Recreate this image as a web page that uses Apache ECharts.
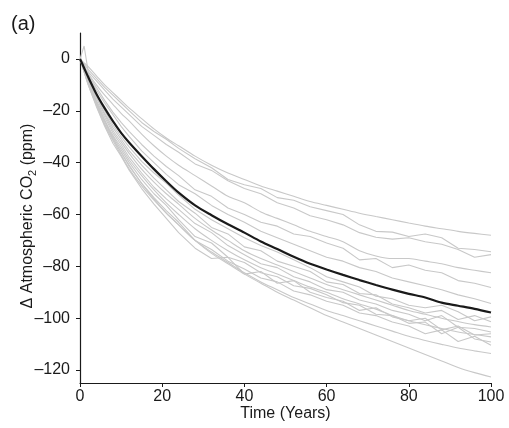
<!DOCTYPE html>
<html>
<head>
<meta charset="utf-8">
<script src="https://cdn.jsdelivr.net/npm/echarts@6/dist/echarts.min.js"></script>
<style>
html,body{margin:0;padding:0;background:#fff;}
#c{width:509px;height:428px;}
</style>
</head>
<body>
<div id="c"></div>
<script>
// Time grid (years)
const years = [0,1,2,4,6,8,10,12,15,18,21,24,28,32,36,40,44,48,52,56,60,64,68,72,76,80,84,88,92,96,100];

// Ensemble mean (black line)
const meanLine = [0,-3.5,-7,-13.5,-19,-24,-28.5,-32.3,-37.5,-42.5,-47.2,-51.6,-56.5,-60.3,-63.8,-67,-70.4,-73.3,-76.3,-79,-81.2,-83.3,-85.3,-87.2,-89,-90.6,-92,-94,-95.2,-96.4,-97.8];

// Individual model runs (grey lines)
const run01 = [0,-1.5,-3,-6.5,-10,-13,-16,-19,-23,-27,-30.5,-33.5,-37.5,-41,-44,-46.5,-49,-51,-53,-55,-56.5,-58,-59.5,-60.8,-62,-63.3,-64.5,-65.5,-66.5,-67.3,-68];
const run02 = [0,-2,-4,-7.5,-11,-14,-17,-20,-24.5,-28,-31,-34.5,-38.5,-42,-46.5,-48.5,-50,-53.5,-54.5,-57,-58.5,-60,-64,-66.5,-66.8,-68.5,-67.5,-69,-73,-73.5,-74.4];
const run03 = [0,5,-5,-8.5,-12,-15.5,-18.5,-21.5,-26,-29.5,-33,-36,-40.5,-43,-47,-50,-52,-55.5,-57.5,-60.5,-62,-64,-67,-68.8,-69.5,-69,-70.5,-71.5,-73.5,-76.5,-75.5];
const run04 = [0,-2.5,-5.5,-10,-14,-17.5,-21,-24,-29,-33.5,-37.5,-41,-45,-49,-53,-55.5,-59,-61.5,-64,-66.5,-68.5,-70.5,-74,-76,-77,-77,-78,-79,-80.5,-81.5,-82.5];
const run05 = [0,-3,-6,-11,-16,-20.5,-24.5,-28,-33,-37.5,-41.5,-45,-50.5,-53,-57.5,-60,-63,-64.5,-67.5,-68.5,-71,-73,-77.5,-77,-80.5,-79.5,-81.5,-82.5,-85.5,-86.5,-88.2];
const run06 = [0,-3.5,-6.5,-12,-17,-21.5,-26,-30,-35.5,-40,-44.5,-48.5,-52,-56.5,-60,-63,-66.5,-69,-71.5,-74,-76.5,-78,-80.5,-82,-84.5,-86,-87.5,-89,-91,-92.5,-94.3];
const run07 = [0,-3.5,-7,-14,-20,-25.5,-30,-34,-39.5,-44,-48,-52.5,-58,-62,-65.5,-69,-72,-74.5,-77.5,-80.5,-84,-86,-88,-91.5,-92.5,-95,-96,-95,-97.5,-101,-99.5];
const run08 = [0,-3.5,-7.5,-14.5,-21,-26.5,-31,-35.5,-41,-46,-50.5,-55,-59.5,-65,-67.5,-72.5,-74,-78,-80,-82,-86,-87,-90.5,-91,-94.5,-96,-98,-97,-100.5,-99,-101.4];
const run09 = [0,-4,-8,-15,-21.5,-27.5,-32,-36.5,-42.5,-47.5,-52,-56,-61.5,-66,-70,-74,-77,-79.5,-82,-84.5,-87,-89,-91,-93,-95,-97,-98.5,-100,-101.3,-102.5,-103.4];
const run10 = [0,-4,-8.5,-16,-22.5,-28.5,-33,-38,-44,-49.5,-54,-58,-63.5,-67,-72,-75.5,-79,-80.5,-84,-86,-89,-90,-93,-94.5,-97,-98.5,-101,-99,-103.5,-104,-105.3];
const run11 = [0,-4.5,-9,-16.5,-23.5,-29.5,-34,-39,-45,-50.5,-55.5,-60,-65.5,-70,-74,-77.5,-80.5,-83,-85.5,-88,-90,-92.5,-94.5,-96.5,-99,-101,-102.5,-104,-105.3,-106.3,-107.2];
const run12 = [0,-4.5,-9,-17,-24,-30,-35,-40,-46.5,-52,-56.5,-62,-68.5,-71,-76.5,-78.5,-82.5,-84,-87.5,-88.5,-91,-94,-95,-98.5,-99,-102,-101.5,-106,-103.5,-108,-109.2];
const run13 = [0,-5,-9.5,-17.5,-25,-31,-36,-41.5,-48,-53.5,-58.5,-63,-70,-73.5,-78,-81,-84.5,-86,-89.5,-91,-93.5,-95,-98,-99,-101.5,-103,-106,-104.5,-109,-107,-110.4];
const run14 = [0,-5,-10,-18,-25.5,-31.5,-37,-42.5,-49,-54.5,-59.5,-64,-70,-74.5,-78.5,-82.5,-86,-89,-92,-94.5,-97,-99,-101,-103,-105,-107,-108.6,-110.1,-111.5,-112.6,-113.6];
const run15 = [0,-4.5,-9,-17,-24,-30.5,-36,-41,-48,-54,-59.5,-64,-70,-75,-79,-83,-86.5,-90,-93,-96,-99,-101.5,-104,-106.5,-109,-111.5,-114,-116.5,-119,-121,-122.7];
const run16 = [0,-5,-10,-18.5,-26,-32.5,-37.5,-43,-50,-56,-61.5,-67,-73,-77,-76.5,-83,-82,-86.5,-85.5,-90,-92,-93.5,-97,-96,-99.5,-101,-100,-104.5,-103,-106.5,-106];

const runs = [run01,run02,run03,run04,run05,run06,run07,run08,run09,run10,run11,run12,run13,run14,run15,run16];
// which runs are smooth curves in the figure
const smoothRuns = [true,false,false,true,false,false,false,false,true,false,true,false,false,true,true,false];

// Axis ticks
const xTicks = [0,20,40,60,80,100];
const yTicks = [-120,-100,-80,-60,-40,-20,0];

const FONT = '"Liberation Sans", Arial, sans-serif';
const pair = arr => years.map((y,i) => [y, arr[i]]);
const fmt = v => String(v).replace('-', '\u2013');

const series = runs.map((r, k) => ({
  type: 'line', data: pair(r), showSymbol: false, symbol: 'none',
  smooth: smoothRuns[k] ? 0.3 : false,
  lineStyle: {color: '#c8c8c8', width: 1.1}, z: 2, silent: true
}));
series.push({
  type: 'line', data: pair(meanLine), showSymbol: false, symbol: 'none', smooth: 0.3,
  lineStyle: {color: '#1a1a1a', width: 2.2}, z: 5, silent: true
});

const chart = echarts.init(document.getElementById('c'), null, {renderer: 'canvas'});
chart.setOption({
  animation: false,
  backgroundColor: '#fff',
  title: {
    text: '(a)', left: 6, top: 9,
    textStyle: {fontFamily: FONT, fontSize: 20, fontWeight: 'normal', color: '#1a1a1a'}
  },
  grid: {left: 80, right: 18, top: 33, bottom: 45, containLabel: false},
  xAxis: {
    type: 'value', min: 0, max: 100, interval: 20,
    name: 'Time (Years)', nameLocation: 'middle', nameGap: 23, nameMoveOverlap: false,
    nameTextStyle: {fontFamily: FONT, fontSize: 16, color: '#1a1a1a'},
    axisLine: {show: true, onZero: false, lineStyle: {color: '#1a1a1a', width: 1.2}},
    axisTick: {show: true, inside: false, length: 4, lineStyle: {color: '#1a1a1a'}},
    axisLabel: {fontFamily: FONT, fontSize: 16, color: '#1a1a1a', margin: 6, formatter: fmt},
    splitLine: {show: false}
  },
  yAxis: {
    type: 'value', min: -125, max: 10,
    name: '{a|\u0394 Atmospheric CO}{s|2}{a| (ppm)}',
    nameLocation: 'middle', nameGap: 42, nameRotate: 90, nameMoveOverlap: false,
    nameTextStyle: {
      fontFamily: FONT, color: '#1a1a1a', padding: [0, 16, 0, 0],
      rich: {
        a: {fontFamily: FONT, fontSize: 16, color: '#1a1a1a', lineHeight: 20},
        s: {fontFamily: FONT, fontSize: 11, color: '#1a1a1a', lineHeight: 20, verticalAlign: 'bottom', padding: [8, 0, 0, 0]}
      }
    },
    axisLine: {show: true, onZero: false, lineStyle: {color: '#1a1a1a', width: 1.2}},
    axisTick: {show: true, inside: false, length: 4, customValues: yTicks, lineStyle: {color: '#1a1a1a'}},
    axisLabel: {fontFamily: FONT, fontSize: 16, color: '#1a1a1a', margin: 10, customValues: yTicks, formatter: fmt},
    splitLine: {show: false}
  },
  series: series
});
</script>
</body>
</html>
